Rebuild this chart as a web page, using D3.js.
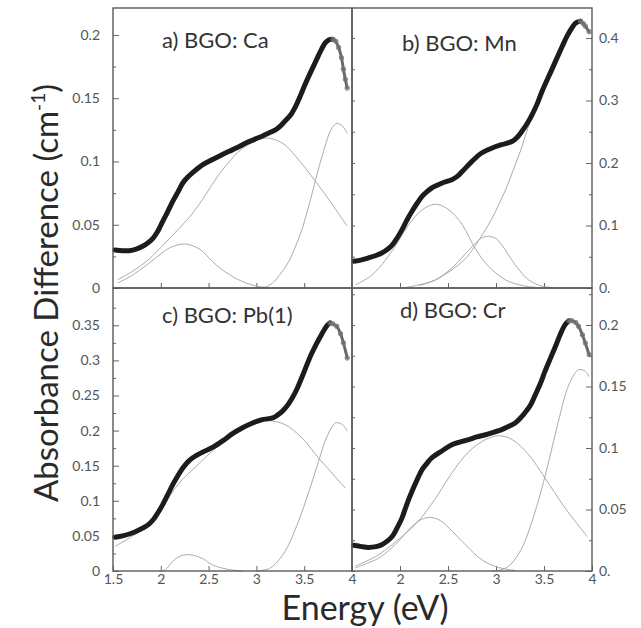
<!DOCTYPE html>
<html>
<head>
<meta charset="utf-8">
<script src="https://cdn.jsdelivr.net/npm/d3@7"></script>
<style>
	body { margin: 0; background: #fff; }
	svg text { font-family: Lato, "Open Sans", sans-serif; }
	.tick text { fill: #555; font-size: 14px; }
	.tick line { stroke: #666; stroke-width: 1; }
	.band { fill: none; stroke: #a2a2a2; stroke-width: 0.9; }
	.head { fill: none; stroke: #1c1c1c; stroke-width: 5; stroke-linecap: round; stroke-linejoin: round; }
	.tail { fill: none; stroke: #6a6a6a; stroke-width: 3; stroke-linecap: round; }
	.dot { fill: none; stroke: #777; stroke-width: 1; }
	.frame { fill: none; stroke: #5a5a5a; stroke-width: 1.4; }
</style>
</head>
<body>
<div id="chart"></div>
<script>
// energy axis
var energyTicks = [1.5, 2, 2.5, 3, 3.5, 4];

// a) BGO: Ca  -- [energy eV, absorbance difference cm^-1]
var caData = [[1.52,0.030],[1.6,0.0295],[1.67,0.0295],[1.75,0.031],[1.81,0.033],[1.87,0.036],[1.92,0.0395],[1.97,0.045],[2.02,0.0527],[2.07,0.060],[2.125,0.0685],[2.18,0.076],[2.23,0.083],[2.28,0.0875],[2.33,0.091],[2.44,0.0975],[2.54,0.1015],[2.63,0.105],[2.715,0.108],[2.8,0.111],[2.89,0.1146],[2.98,0.1175],[3.06,0.12],[3.13,0.1225],[3.2,0.125],[3.25,0.128],[3.3,0.132],[3.36,0.137],[3.41,0.1436],[3.46,0.152],[3.51,0.161],[3.57,0.171],[3.62,0.179],[3.67,0.187],[3.72,0.1937],[3.76,0.1962],[3.8,0.1965],[3.83,0.195],[3.86,0.19],[3.89,0.182],[3.91,0.173],[3.93,0.165],[3.95,0.158]];
var caBand1 = [[1.55,0.004],[1.7,0.01],[1.85,0.018],[2.0,0.027],[2.1,0.032],[2.25,0.0348],[2.4,0.031],[2.54,0.021],[2.63,0.015],[2.72,0.0105],[2.8,0.007],[2.89,0.004],[3.0,0.0015],[3.1,0.0003]];
var caBand2 = [[1.55,0.0066],[1.7,0.013],[1.85,0.021],[2.0,0.032],[2.19,0.047],[2.3,0.056],[2.4,0.066],[2.54,0.082],[2.63,0.092],[2.72,0.1],[2.8,0.107],[2.89,0.112],[3.0,0.117],[3.1,0.1186],[3.2,0.117],[3.3,0.113],[3.4,0.105],[3.51,0.095],[3.62,0.084],[3.72,0.074],[3.83,0.062],[3.95,0.049]];
var caBand3 = [[3.0,0.0],[3.1,0.001],[3.17,0.004],[3.25,0.011],[3.34,0.021],[3.41,0.033],[3.48,0.047],[3.58,0.074],[3.69,0.105],[3.79,0.1265],[3.84,0.13],[3.9,0.128],[3.95,0.122]];
var caTicks = [0, 0.05, 0.1, 0.15, 0.2];
var caTickLabels = ["0", "0.05", "0.1", "0.15", "0.2"];

// b) BGO: Mn
var mnData = [[1.52,0.0427],[1.6,0.045],[1.67,0.048],[1.75,0.052],[1.81,0.056],[1.87,0.062],[1.92,0.069],[1.97,0.08],[2.02,0.093],[2.07,0.108],[2.125,0.1227],[2.18,0.136],[2.23,0.1467],[2.28,0.154],[2.33,0.16],[2.44,0.168],[2.54,0.1733],[2.6,0.179],[2.65,0.1867],[2.75,0.2027],[2.85,0.216],[2.96,0.224],[3.06,0.2293],[3.17,0.2347],[3.22,0.241],[3.27,0.2507],[3.32,0.262],[3.375,0.277],[3.43,0.295],[3.48,0.3147],[3.58,0.349],[3.69,0.3867],[3.74,0.403],[3.79,0.416],[3.83,0.424],[3.88,0.4267],[3.91,0.423],[3.93,0.419],[3.97,0.41]];
var mnBand1 = [[1.53,0.005],[1.6,0.01],[1.71,0.021],[1.85,0.045],[1.95,0.067],[2.09,0.101],[2.23,0.125],[2.37,0.134],[2.51,0.125],[2.65,0.101],[2.78,0.064],[2.92,0.035],[3.1,0.013],[3.27,0.004],[3.41,0.001]];
var mnBand2 = [[2.2,0.004],[2.37,0.013],[2.54,0.032],[2.72,0.061],[2.85,0.08],[2.92,0.0827],[3.0,0.079],[3.06,0.069],[3.2,0.037],[3.34,0.013],[3.48,0.003],[3.6,0.0005]];
var mnBand3 = [[2.02,0.0],[2.2,0.005],[2.37,0.013],[2.5,0.025],[2.61,0.037],[2.7,0.05],[2.78,0.067],[2.87,0.088],[2.96,0.112],[3.03,0.134],[3.1,0.157],[3.17,0.185],[3.24,0.213],[3.32,0.25],[3.36,0.268]];
var mnTicks = [0, 0.1, 0.2, 0.3, 0.4];
var mnTickLabels = ["0.", "0.1", "0.2", "0.3", "0.4"];

// c) BGO: Pb(1)
var pbData = [[1.52,0.048],[1.6,0.05],[1.67,0.0527],[1.75,0.057],[1.81,0.061],[1.87,0.066],[1.92,0.073],[1.97,0.083],[2.02,0.0945],[2.07,0.108],[2.125,0.123],[2.18,0.136],[2.23,0.1467],[2.28,0.155],[2.33,0.161],[2.44,0.1695],[2.54,0.176],[2.65,0.1857],[2.75,0.1956],[2.85,0.2037],[2.96,0.2108],[3.06,0.2156],[3.17,0.218],[3.22,0.222],[3.27,0.2274],[3.32,0.235],[3.375,0.2464],[3.43,0.261],[3.48,0.2773],[3.58,0.3105],[3.69,0.339],[3.74,0.35],[3.77,0.3533],[3.8,0.352],[3.84,0.3485],[3.88,0.338],[3.91,0.325],[3.95,0.3034]];
var pbBand1 = [[2.0,0.0],[2.05,0.002],[2.125,0.0138],[2.2,0.021],[2.3,0.0233],[2.44,0.0176],[2.51,0.011],[2.58,0.0066],[2.72,0.002],[2.85,0.0]];
var pbBand2 = [[1.52,0.035],[1.67,0.047],[1.85,0.0636],[2.02,0.092],[2.19,0.125],[2.37,0.149],[2.54,0.171],[2.7,0.188],[2.85,0.201],[3.0,0.21],[3.13,0.214],[3.3,0.2085],[3.48,0.189],[3.65,0.161],[3.79,0.1396],[3.93,0.118]];
var pbBand3 = [[2.99,0.0],[3.1,0.002],[3.17,0.0066],[3.3,0.028],[3.44,0.0707],[3.55,0.1135],[3.65,0.156],[3.74,0.192],[3.83,0.211],[3.9,0.2085],[3.95,0.199]];
var pbTicks = [0, 0.05, 0.1, 0.15, 0.2, 0.25, 0.3, 0.35];
var pbTickLabels = ["0", "0.05", "0.1", "0.15", "0.2", "0.25", "0.3", "0.35"];

// d) BGO: Cr
var crData = [[1.52,0.0209],[1.6,0.0198],[1.67,0.0192],[1.75,0.0198],[1.81,0.0214],[1.87,0.0245],[1.92,0.0282],[1.97,0.035],[2.02,0.043],[2.07,0.054],[2.125,0.0648],[2.18,0.0745],[2.23,0.0824],[2.28,0.0875],[2.33,0.0919],[2.44,0.0978],[2.54,0.1027],[2.63,0.105],[2.715,0.1068],[2.8,0.109],[2.89,0.1108],[2.98,0.113],[3.06,0.1149],[3.13,0.1175],[3.2,0.1203],[3.25,0.124],[3.3,0.1285],[3.36,0.135],[3.41,0.1434],[3.46,0.152],[3.51,0.1623],[3.57,0.1735],[3.62,0.1827],[3.67,0.1925],[3.72,0.2003],[3.76,0.2035],[3.79,0.2035],[3.83,0.202],[3.86,0.1989],[3.9,0.192],[3.93,0.1854],[3.97,0.1759]];
var crBand1 = [[1.53,0.0024],[1.65,0.006],[1.78,0.0106],[1.95,0.0214],[2.125,0.0363],[2.22,0.0418],[2.32,0.0436],[2.42,0.041],[2.51,0.035],[2.68,0.0214],[2.85,0.0092],[2.99,0.0038],[3.1,0.0016],[3.2,0.0005]];
var crBand2 = [[1.53,0.0038],[1.65,0.008],[1.78,0.0133],[2.02,0.028],[2.19,0.0404],[2.37,0.059],[2.54,0.0797],[2.72,0.0973],[2.89,0.1068],[3.03,0.11],[3.17,0.1068],[3.34,0.0946],[3.51,0.0756],[3.72,0.0512],[3.95,0.028]];
var crBand3 = [[2.96,0.0],[3.05,0.001],[3.13,0.0038],[3.22,0.012],[3.3,0.024],[3.44,0.0566],[3.55,0.0892],[3.65,0.1217],[3.76,0.1515],[3.86,0.1637],[3.93,0.1623],[3.97,0.158]];
var crTicks = [0, 0.05, 0.1, 0.15, 0.2];
var crTickLabels = ["0.", "0.05", "0.1", "0.15", "0.2"];

// page layout
var W = 641, H = 628;
var colX = [113, 352, 592];
var rowY = [8, 288, 571];

var panels = [
	{label: "a) BGO: Ca", data: caData, bands: [caBand1, caBand2, caBand3], ticks: caTicks, tickLabels: caTickLabels, step: 0.025, yMax: 0.2213, col: 0, row: 0, lx: 162, ly: 48},
	{label: "b) BGO: Mn", data: mnData, bands: [mnBand1, mnBand2, mnBand3], ticks: mnTicks, tickLabels: mnTickLabels, step: 0.05, yMax: 0.448, col: 1, row: 0, lx: 402, ly: 51},
	{label: "c) BGO: Pb(1)", data: pbData, bands: [pbBand1, pbBand2, pbBand3], ticks: pbTicks, tickLabels: pbTickLabels, step: 0.025, yMax: 0.4031, col: 0, row: 1, lx: 162, ly: 323},
	{label: "d) BGO: Cr", data: crData, bands: [crBand1, crBand2, crBand3], ticks: crTicks, tickLabels: crTickLabels, step: 0.025, yMax: 0.2301, col: 1, row: 1, lx: 400, ly: 318}
];

var svg = d3.select("#chart").append("svg")
	.attr("width", W)
	.attr("height", H);

function noDomain(g) { g.select(".domain").remove(); }

panels.forEach(function(p) {
	var x0 = colX[p.col], x1 = colX[p.col + 1];
	var y0 = rowY[p.row], y1 = rowY[p.row + 1];

	var x = d3.scaleLinear().domain([1.5, 4]).range([x0, x1]);
	var y = d3.scaleLinear().domain([0, p.yMax]).range([y1, y0]);

	var g = svg.append("g");

	// minor ticks: midway between the labelled ones
	var minors = d3.range(p.step, p.yMax, p.step * 2);

	// bottom ticks (inside), labels only on the bottom row
	var xVals = p.col == 0 ? energyTicks : energyTicks.slice(1);
	g.append("g")
		.attr("transform", "translate(0," + y1 + ")")
		.call(d3.axisBottom(x).tickValues(p.row == 1 ? xVals : [2, 2.5, 3, 3.5])
			.tickSizeInner(-5).tickSizeOuter(0).tickPadding(3)
			.tickFormat(p.row == 1 ? d3.format("") : ""))
		.call(noDomain);

	if (p.col == 0) {
		g.append("g")
			.attr("transform", "translate(" + x0 + ",0)")
			.call(d3.axisLeft(y).tickValues(p.ticks).tickSizeInner(-6).tickSizeOuter(0).tickPadding(13)
				.tickFormat(function(d, i) { return p.tickLabels[i]; }))
			.call(noDomain);
		g.append("g")
			.attr("transform", "translate(" + x0 + ",0)")
			.call(d3.axisLeft(y).tickValues(minors).tickSizeInner(-3).tickSizeOuter(0).tickFormat(""))
			.call(noDomain);
	} else {
		g.append("g")
			.attr("transform", "translate(" + x1 + ",0)")
			.call(d3.axisRight(y).tickValues(p.ticks).tickSizeInner(-6).tickSizeOuter(0).tickPadding(7)
				.tickFormat(function(d, i) { return p.tickLabels[i]; }))
			.call(noDomain);
		g.append("g")
			.attr("transform", "translate(" + x1 + ",0)")
			.call(d3.axisRight(y).tickValues(minors).tickSizeInner(-3).tickSizeOuter(0).tickFormat(""))
			.call(noDomain);
		// unlabelled ticks on the shared edge
		g.append("g")
			.attr("transform", "translate(" + x0 + ",0)")
			.call(d3.axisLeft(y).tickValues(p.ticks.concat(minors)).tickSizeInner(-3).tickSizeOuter(0).tickFormat(""))
			.call(noDomain);
	}

	var line = d3.line()
		.x(function(d) { return x(d[0]); })
		.y(function(d) { return y(d[1]); })
		.curve(d3.curveCatmullRom);

	// fitted components
	p.bands.forEach(function(b) {
		g.append("path").datum(b).attr("class", "band").attr("d", line);
	});

	// measured curve: dense part up to the peak, sparser tail after it
	var imax = d3.maxIndex(p.data, function(d) { return d[1]; });
	var head = p.data.slice(0, imax + 1);
	var tail = p.data.slice(imax);
	g.append("path").datum(head).attr("class", "head").attr("d", line);
	g.append("path").datum(tail).attr("class", "tail").attr("d", line);
	g.selectAll(".dot").data(tail).enter().append("circle")
		.attr("class", "dot")
		.attr("cx", function(d) { return x(d[0]); })
		.attr("cy", function(d) { return y(d[1]); })
		.attr("r", 2.2);

	g.append("rect").attr("class", "frame")
		.attr("x", x0).attr("y", y0)
		.attr("width", x1 - x0).attr("height", y1 - y0);

	g.append("text")
		.attr("x", p.lx).attr("y", p.ly)
		.style("font-size", "22px")
		.style("fill", "#333")
		.text(p.label);
});

// axis titles
svg.append("text")
	.attr("x", 365).attr("y", 620)
	.attr("text-anchor", "middle")
	.style("font-size", "34px")
	.style("fill", "#2a2a2a")
	.text("Energy (eV)");

var yt = svg.append("text")
	.attr("transform", "translate(58,293) rotate(-90)")
	.attr("text-anchor", "middle")
	.style("font-size", "33px")
	.style("fill", "#2a2a2a");
yt.append("tspan").text("Absorbance Difference (cm");
yt.append("tspan").attr("dy", -13).style("font-size", "19px").text("-1");
yt.append("tspan").attr("dy", 13).text(")");
</script>
</body>
</html>
